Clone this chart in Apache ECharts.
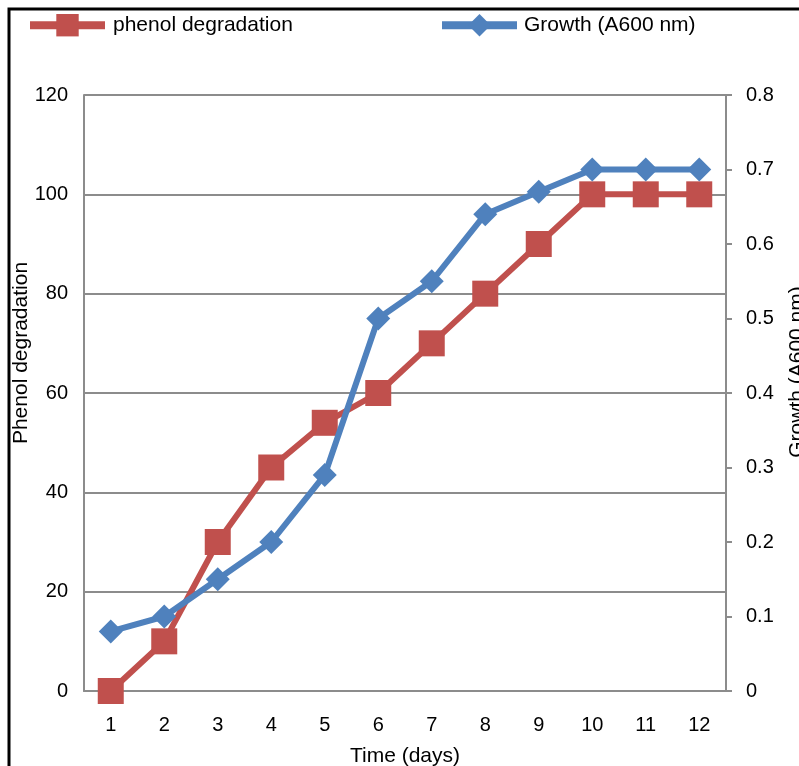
<!DOCTYPE html>
<html>
<head>
<meta charset="utf-8">
<script src="https://cdn.jsdelivr.net/npm/echarts@6/dist/echarts.min.js"></script>
<style>html,body{margin:0;padding:0;background:#fff;}#c{width:799px;height:766px;}</style>
</head>
<body>
<div id="c"></div>
<script>
const days = ['1','2','3','4','5','6','7','8','9','10','11','12'];
const phenolDegradation = [0, 10, 30, 45, 54, 60, 70, 80, 90, 100, 100, 100];
const growthA600 = [0.08, 0.10, 0.15, 0.20, 0.29, 0.50, 0.55, 0.64, 0.67, 0.70, 0.70, 0.70];
const leftTicks = {min: 0, max: 120, interval: 20};
const rightTicks = {min: 0, max: 0.8, interval: 0.1};

const RED = '#C0504D', BLUE = '#4F81BD', GRID = '#8c8c8c';
const font = 'Liberation Sans, Arial, sans-serif';
const chart = echarts.init(document.getElementById('c'), null, {renderer: 'canvas'});
chart.setOption({
  animation: false,
  backgroundColor: '#fff',
  textStyle: {fontFamily: font},
  graphic: [{
    type: 'rect', shape: {x: 9, y: 9, width: 1000, height: 1000},
    style: {fill: 'none', stroke: '#000', lineWidth: 3}
  }],
  legend: [{
    data: ['phenol degradation'], left: 21, top: 9,
    itemWidth: 75, itemHeight: 28,
    lineStyle: {width: 8},
    textStyle: {fontSize: 21, color: '#000', fontFamily: font, padding: [0, 0, 0, 3]}
  }, {
    data: ['Growth (A600 nm)'], left: 433, top: 9,
    itemWidth: 75, itemHeight: 28,
    lineStyle: {width: 8},
    textStyle: {fontSize: 21, color: '#000', fontFamily: font, padding: [0, 0, 0, 2]}
  }],
  grid: {left: 84, right: 73, top: 95, bottom: 75, containLabel: false, outerBoundsMode: 'none'},
  xAxis: {
    type: 'category', data: days, boundaryGap: true,
    name: 'Time (days)', nameLocation: 'middle', nameGap: 55, nameMoveOverlap: false,
    nameTextStyle: {fontSize: 21, color: '#000'},
    axisLine: {lineStyle: {color: GRID, width: 2}},
    axisTick: {show: false},
    axisLabel: {fontSize: 20, color: '#000', margin: 24}
  },
  yAxis: [{
    type: 'value', min: leftTicks.min, max: leftTicks.max, interval: leftTicks.interval,
    name: 'Phenol degradation', nameLocation: 'middle', nameGap: 52, nameRotate: 90, nameMoveOverlap: false,
    nameTextStyle: {fontSize: 21, color: '#000', padding: [0, 0, 0, 80]},
    axisLine: {show: true, lineStyle: {color: GRID, width: 2}},
    axisTick: {show: false},
    axisLabel: {fontSize: 20, color: '#000', margin: 16},
    splitLine: {lineStyle: {color: GRID, width: 2}}
  }, {
    type: 'value', position: 'right', min: rightTicks.min, max: rightTicks.max, interval: rightTicks.interval,
    name: 'Growth (A600 nm)', nameLocation: 'middle', nameGap: 61, nameRotate: 90, nameMoveOverlap: false,
    nameTextStyle: {fontSize: 21, color: '#000', padding: [0, 0, 0, 42]},
    axisLine: {show: true, lineStyle: {color: GRID, width: 2}},
    axisTick: {show: true, length: 6, lineStyle: {color: GRID, width: 2}},
    axisLabel: {fontSize: 20, color: '#000', margin: 20},
    splitLine: {show: false}
  }],
  series: [{
    name: 'phenol degradation', type: 'line', yAxisIndex: 0, data: phenolDegradation,
    symbol: 'rect', symbolSize: 26,
    lineStyle: {color: RED, width: 6}, itemStyle: {color: RED}, z: 2
  }, {
    name: 'Growth (A600 nm)', type: 'line', yAxisIndex: 1, data: growthA600,
    symbol: 'diamond', symbolSize: 24,
    lineStyle: {color: BLUE, width: 6}, itemStyle: {color: BLUE}, z: 3
  }]
});
</script>
</body>
</html>
